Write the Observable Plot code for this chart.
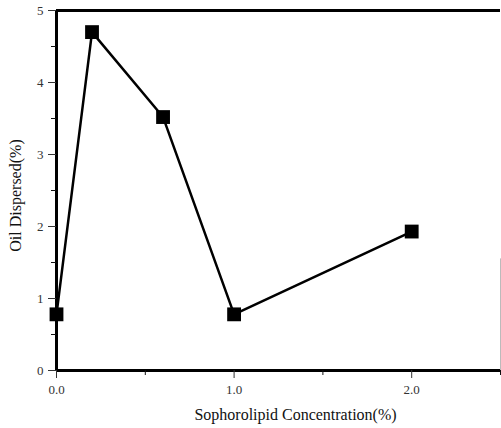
<!DOCTYPE html>
<html>
<head>
<meta charset="utf-8">
<script src="https://cdn.jsdelivr.net/npm/d3@7"></script>
<script src="https://cdn.jsdelivr.net/npm/@observablehq/plot@0.6"></script>
<style>
  html, body { margin: 0; padding: 0; background: #fff; }
  #chart svg { display: block; }
</style>
</head>
<body>
<div id="chart"></div>
<script>
// Data
const concentration = [0.0, 0.2, 0.6, 1.0, 2.0];
const oilDispersed = [0.78, 4.7, 3.52, 0.78, 1.93];

const xMajorTicks = [0, 1, 2];
const xTickLabels = ["0.0", "1.0", "2.0"];
const xMinorTicks = [0.5, 1.5, 2.5];
const yMajorTicks = [0, 1, 2, 3, 4, 5];
const yTickLabels = ["0", "1", "2", "3", "4", "5"];
const yMinorTicks = [0.5, 1.5, 2.5, 3.5, 4.5];

const xTitle = "Sophorolipid Concentration(%)";
const yTitle = "Oil Dispersed(%)";

const points = concentration.map((c, i) => ({x: c, y: oilDispersed[i]}));

const font = "'Liberation Serif', 'DejaVu Serif', serif";

const chart = Plot.plot({
  width: 501,
  height: 428,
  marginLeft: 56,
  marginRight: 1,
  marginTop: 10,
  marginBottom: 58,
  style: {fontFamily: font, background: "#fff", color: "#111"},
  x: {domain: [0, 2.5]},
  y: {domain: [0, 5]},
  marks: [
    // faint right edge (scan artifact in reference)
    Plot.ruleX([2.5], {y1: 0, y2: 1.55, stroke: "#bbb", strokeWidth: 1}),
    // frame lines
    Plot.ruleY([0], {stroke: "#000", strokeWidth: 3}),
    Plot.ruleY([5], {stroke: "#000", strokeWidth: 3}),
    Plot.ruleX([0], {stroke: "#000", strokeWidth: 3}),
    // x axis ticks
    Plot.axisX({ticks: xMajorTicks, tickSize: 8, tickWidth: 3, tickPadding: 6,
      tickFormat: (d) => xTickLabels[xMajorTicks.indexOf(d)], fontSize: 13, color: "#333", label: null}),
    Plot.axisX({ticks: xMinorTicks, tickSize: 5, tickWidth: 2, tickFormat: () => "", label: null}),
    // y axis ticks
    Plot.axisY({ticks: yMajorTicks, tickSize: 8, tickWidth: 2.5, tickPadding: 5,
      tickFormat: (d) => yTickLabels[yMajorTicks.indexOf(d)], fontSize: 13, color: "#333", label: null}),
    Plot.axisY({ticks: yMinorTicks, tickSize: 5, tickWidth: 2, tickFormat: () => "", label: null}),
    // axis titles
    Plot.text([xTitle], {frameAnchor: "bottom", dy: 49, fontSize: 16, fill: "#111", dx: 17}),
    Plot.text([yTitle], {frameAnchor: "left", textAnchor: "middle", dx: -41, dy: 5, rotate: -90, fontSize: 16, fill: "#111"}),
    // data
    Plot.line(points, {x: "x", y: "y", stroke: "#000", strokeWidth: 2.5}),
    Plot.dot(points, {x: "x", y: "y", symbol: "square", r: 7.8, fill: "#000", stroke: "none"})
  ]
});

document.getElementById("chart").appendChild(chart);
</script>
</body>
</html>
